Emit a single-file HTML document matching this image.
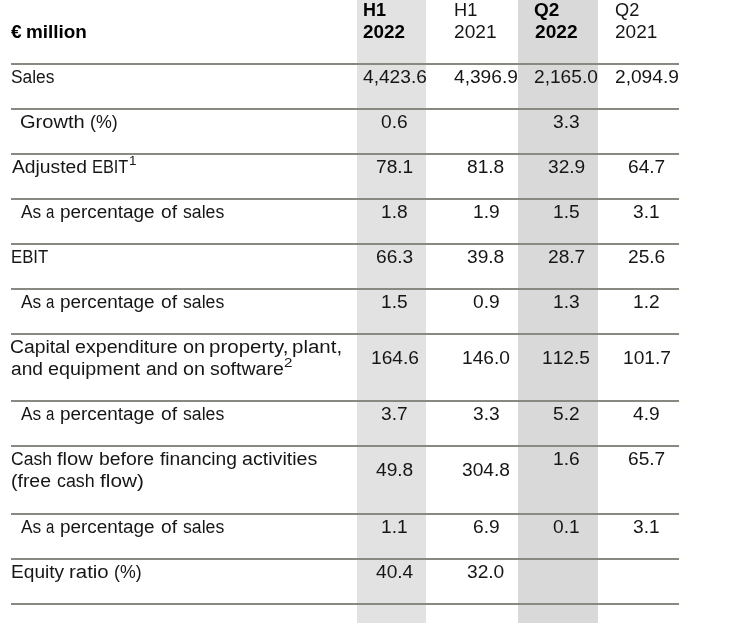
<!DOCTYPE html>
<html>
<head>
<meta charset="utf-8">
<title>Key figures</title>
<style>
html,body{margin:0;padding:0;background:#fff;}
body{width:749px;height:623px;position:relative;overflow:hidden;font-family:"Liberation Sans",sans-serif;color:#161616;}
#w{position:absolute;left:0;top:0;width:749px;height:623px;will-change:transform;}
.sh{position:absolute;top:0;height:623px;}
.ln{position:absolute;left:11px;width:668px;height:2px;background:#898982;}
.t{position:absolute;white-space:nowrap;transform-origin:0 0;font-size:18px;line-height:18px;}
.b{font-weight:bold;color:#000;}
.s{font-size:13px;line-height:13px;}
.n{font-kerning:none;}

</style>
</head>
<body>
<div id="w">
<div class="sh" style="left:357px;width:69px;background:#e2e2e2"></div>
<div class="sh" style="left:518px;width:80px;background:#d9d9d9"></div>
<div class="ln" style="top:63px"></div>
<div class="ln" style="top:108px"></div>
<div class="ln" style="top:153px"></div>
<div class="ln" style="top:198px"></div>
<div class="ln" style="top:243px"></div>
<div class="ln" style="top:288px"></div>
<div class="ln" style="top:333px"></div>
<div class="ln" style="top:400px"></div>
<div class="ln" style="top:445px"></div>
<div class="ln" style="top:513px"></div>
<div class="ln" style="top:558px"></div>
<div class="ln" style="top:603px"></div>
<span class="t b" style="left:11.03px;top:23.00px;transform:scaleX(1.0632)">€</span>
<span class="t b" style="left:26.19px;top:23.00px;transform:scaleX(1.0493)">million</span>
<span class="t b" style="left:362.95px;top:1.00px;transform:scaleX(0.9976)">H1</span>
<span class="t b" style="left:363.11px;top:23.00px;transform:scaleX(1.0468)">2022</span>
<span class="t" style="left:453.88px;top:1.00px;transform:scaleX(1.0120)">H1</span>
<span class="t" style="left:453.94px;top:23.00px;transform:scaleX(1.0614)">2021</span>
<span class="t b" style="left:534.21px;top:1.00px;transform:scaleX(1.0533)">Q2</span>
<span class="t b" style="left:534.60px;top:23.00px;transform:scaleX(1.0623)">2022</span>
<span class="t" style="left:615.14px;top:1.00px;transform:scaleX(1.0112)">Q2</span>
<span class="t" style="left:614.84px;top:23.00px;transform:scaleX(1.0562)">2021</span>
<span class="t" style="left:10.78px;top:68.00px;transform:scaleX(0.9655)">Sales</span>
<span class="t" style="left:19.89px;top:113.00px;transform:scaleX(1.1139)">Growth</span>
<span class="t" style="left:89.71px;top:113.00px;transform:scaleX(0.9903)">(%)</span>
<span class="t" style="left:11.50px;top:158.00px;transform:scaleX(1.0710)">Adjusted</span>
<span class="t" style="left:91.54px;top:158.00px;transform:scaleX(0.9079)">EBIT</span>
<span class="t s" style="left:129.06px;top:154.00px;transform:scaleX(1.0364)">1</span>
<span class="t" style="left:21.10px;top:203.00px;transform:scaleX(0.9630)">As</span>
<span class="t" style="left:45.98px;top:203.00px;transform:scaleX(0.8324)">a</span>
<span class="t" style="left:60.19px;top:203.00px;transform:scaleX(1.0500)">percentage</span>
<span class="t" style="left:160.70px;top:203.00px;transform:scaleX(1.0667)">of</span>
<span class="t" style="left:183.41px;top:203.00px;transform:scaleX(0.9816)">sales</span>
<span class="t" style="left:10.61px;top:248.00px;transform:scaleX(0.9289)">EBIT</span>
<span class="t" style="left:21.10px;top:293.00px;transform:scaleX(0.9630)">As</span>
<span class="t" style="left:45.98px;top:293.00px;transform:scaleX(0.8324)">a</span>
<span class="t" style="left:60.19px;top:293.00px;transform:scaleX(1.0500)">percentage</span>
<span class="t" style="left:160.70px;top:293.00px;transform:scaleX(1.0667)">of</span>
<span class="t" style="left:183.41px;top:293.00px;transform:scaleX(0.9816)">sales</span>
<span class="t" style="left:10.33px;top:338.00px;transform:scaleX(1.0735)">Capital</span>
<span class="t" style="left:74.68px;top:338.00px;transform:scaleX(1.0908)">expenditure</span>
<span class="t" style="left:182.78px;top:338.00px;transform:scaleX(1.1000)">on</span>
<span class="t" style="left:209.17px;top:338.00px;transform:scaleX(1.1401)">property,</span>
<span class="t" style="left:291.68px;top:338.00px;transform:scaleX(1.1370)">plant,</span>
<span class="t" style="left:10.90px;top:360.00px;transform:scaleX(1.0643)">and</span>
<span class="t" style="left:47.78px;top:360.00px;transform:scaleX(1.0955)">equipment</span>
<span class="t" style="left:145.90px;top:360.00px;transform:scaleX(1.0607)">and</span>
<span class="t" style="left:182.78px;top:360.00px;transform:scaleX(1.1000)">on</span>
<span class="t" style="left:210.06px;top:360.00px;transform:scaleX(1.0846)">software</span>
<span class="t s" style="left:283.93px;top:356.00px;transform:scaleX(1.1652)">2</span>
<span class="t" style="left:21.10px;top:405.00px;transform:scaleX(0.9630)">As</span>
<span class="t" style="left:45.98px;top:405.00px;transform:scaleX(0.8324)">a</span>
<span class="t" style="left:60.19px;top:405.00px;transform:scaleX(1.0500)">percentage</span>
<span class="t" style="left:160.70px;top:405.00px;transform:scaleX(1.0667)">of</span>
<span class="t" style="left:183.41px;top:405.00px;transform:scaleX(0.9816)">sales</span>
<span class="t" style="left:11.03px;top:450.00px;transform:scaleX(0.9736)">Cash</span>
<span class="t" style="left:57.22px;top:450.00px;transform:scaleX(1.1213)">flow</span>
<span class="t" style="left:98.75px;top:450.00px;transform:scaleX(1.0796)">before</span>
<span class="t" style="left:159.73px;top:450.00px;transform:scaleX(1.0671)">financing</span>
<span class="t" style="left:241.58px;top:450.00px;transform:scaleX(1.0919)">activities</span>
<span class="t" style="left:10.92px;top:472.00px;transform:scaleX(1.0809)">(free</span>
<span class="t" style="left:56.76px;top:472.00px;transform:scaleX(0.9889)">cash</span>
<span class="t" style="left:99.81px;top:472.00px;transform:scaleX(1.1534)">flow)</span>
<span class="t" style="left:21.10px;top:518.00px;transform:scaleX(0.9630)">As</span>
<span class="t" style="left:45.98px;top:518.00px;transform:scaleX(0.8324)">a</span>
<span class="t" style="left:60.19px;top:518.00px;transform:scaleX(1.0500)">percentage</span>
<span class="t" style="left:160.70px;top:518.00px;transform:scaleX(1.0667)">of</span>
<span class="t" style="left:183.41px;top:518.00px;transform:scaleX(0.9816)">sales</span>
<span class="t" style="left:11.01px;top:563.00px;transform:scaleX(1.0619)">Equity</span>
<span class="t" style="left:68.68px;top:563.00px;transform:scaleX(1.1333)">ratio</span>
<span class="t" style="left:113.81px;top:563.00px;transform:scaleX(0.9864)">(%)</span>
<span class="t n" style="left:362.55px;top:68.00px;transform:scaleX(1.0640)">4,423.6</span>
<span class="t n" style="left:454.05px;top:68.00px;transform:scaleX(1.0640)">4,396.9</span>
<span class="t n" style="left:534.35px;top:68.00px;transform:scaleX(1.0640)">2,165.0</span>
<span class="t n" style="left:614.75px;top:68.00px;transform:scaleX(1.0640)">2,094.9</span>
<span class="t n" style="left:381.18px;top:113.00px;transform:scaleX(1.0640)">0.6</span>
<span class="t n" style="left:552.98px;top:113.00px;transform:scaleX(1.0640)">3.3</span>
<span class="t n" style="left:375.86px;top:158.00px;transform:scaleX(1.0640)">78.1</span>
<span class="t n" style="left:467.36px;top:158.00px;transform:scaleX(1.0640)">81.8</span>
<span class="t n" style="left:547.66px;top:158.00px;transform:scaleX(1.0640)">32.9</span>
<span class="t n" style="left:628.06px;top:158.00px;transform:scaleX(1.0640)">64.7</span>
<span class="t n" style="left:381.18px;top:203.00px;transform:scaleX(1.0640)">1.8</span>
<span class="t n" style="left:472.68px;top:203.00px;transform:scaleX(1.0640)">1.9</span>
<span class="t n" style="left:552.98px;top:203.00px;transform:scaleX(1.0640)">1.5</span>
<span class="t n" style="left:633.38px;top:203.00px;transform:scaleX(1.0640)">3.1</span>
<span class="t n" style="left:375.86px;top:248.00px;transform:scaleX(1.0640)">66.3</span>
<span class="t n" style="left:467.36px;top:248.00px;transform:scaleX(1.0640)">39.8</span>
<span class="t n" style="left:547.66px;top:248.00px;transform:scaleX(1.0640)">28.7</span>
<span class="t n" style="left:628.06px;top:248.00px;transform:scaleX(1.0640)">25.6</span>
<span class="t n" style="left:381.18px;top:293.00px;transform:scaleX(1.0640)">1.5</span>
<span class="t n" style="left:472.68px;top:293.00px;transform:scaleX(1.0640)">0.9</span>
<span class="t n" style="left:552.98px;top:293.00px;transform:scaleX(1.0640)">1.3</span>
<span class="t n" style="left:633.38px;top:293.00px;transform:scaleX(1.0640)">1.2</span>
<span class="t n" style="left:370.54px;top:349.00px;transform:scaleX(1.0640)">164.6</span>
<span class="t n" style="left:462.04px;top:349.00px;transform:scaleX(1.0640)">146.0</span>
<span class="t n" style="left:542.34px;top:349.00px;transform:scaleX(1.0640)">112.5</span>
<span class="t n" style="left:622.74px;top:349.00px;transform:scaleX(1.0640)">101.7</span>
<span class="t n" style="left:381.18px;top:405.00px;transform:scaleX(1.0640)">3.7</span>
<span class="t n" style="left:472.68px;top:405.00px;transform:scaleX(1.0640)">3.3</span>
<span class="t n" style="left:552.98px;top:405.00px;transform:scaleX(1.0640)">5.2</span>
<span class="t n" style="left:633.38px;top:405.00px;transform:scaleX(1.0640)">4.9</span>
<span class="t n" style="left:375.86px;top:461.00px;transform:scaleX(1.0640)">49.8</span>
<span class="t n" style="left:462.04px;top:461.00px;transform:scaleX(1.0640)">304.8</span>
<span class="t n" style="left:552.98px;top:450.00px;transform:scaleX(1.0640)">1.6</span>
<span class="t n" style="left:628.06px;top:450.00px;transform:scaleX(1.0640)">65.7</span>
<span class="t n" style="left:381.18px;top:518.00px;transform:scaleX(1.0640)">1.1</span>
<span class="t n" style="left:472.68px;top:518.00px;transform:scaleX(1.0640)">6.9</span>
<span class="t n" style="left:552.98px;top:518.00px;transform:scaleX(1.0640)">0.1</span>
<span class="t n" style="left:633.38px;top:518.00px;transform:scaleX(1.0640)">3.1</span>
<span class="t n" style="left:375.86px;top:563.00px;transform:scaleX(1.0640)">40.4</span>
<span class="t n" style="left:467.36px;top:563.00px;transform:scaleX(1.0640)">32.0</span>
</div>
</body>
</html>
